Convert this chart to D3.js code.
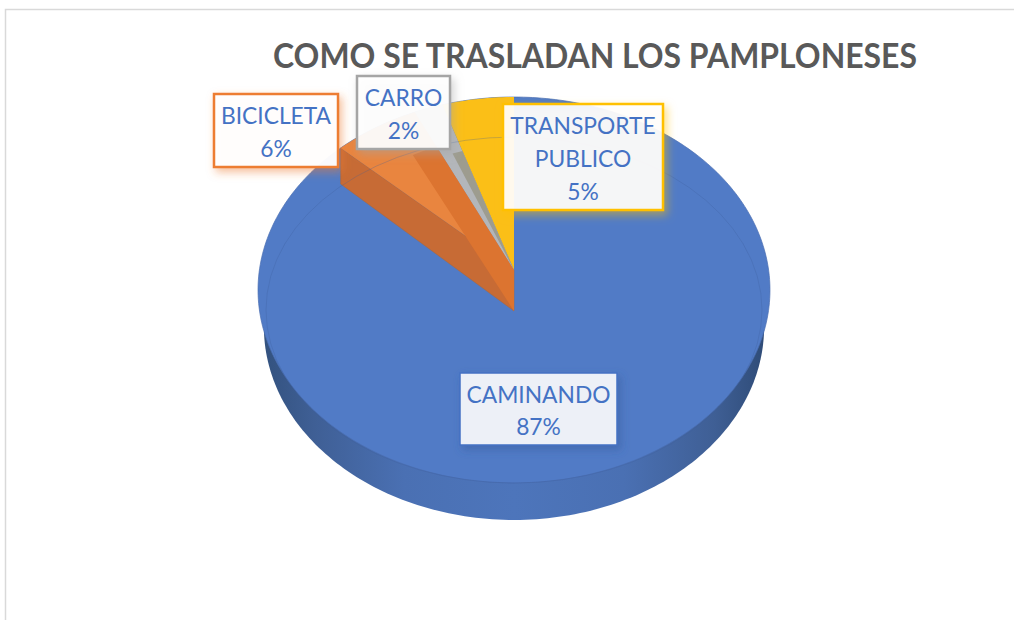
<!DOCTYPE html>
<html>
<head>
<meta charset="utf-8">
<script src="https://cdn.jsdelivr.net/npm/d3@7"></script>
<style>
  html, body { margin: 0; padding: 0; background: #fff; overflow: hidden; }
  svg { display: block; }
  text { font-family: Lato, "Open Sans", sans-serif; }
</style>
</head>
<body>
<svg id="chart" width="1014" height="620"></svg>
<script>
// ----------------------
// 1. Data
// ----------------------
const chartTitle = "COMO SE TRASLADAN LOS PAMPLONESES";
const categories = ["CAMINANDO", "BICICLETA", "CARRO", "TRANSPORTE PUBLICO"];
const values = [87, 6, 2, 5];
const labelLines = [["CAMINANDO"], ["BICICLETA"], ["CARRO"], ["TRANSPORTE", "PUBLICO"]];

// ----------------------
// 2. Layout + colours
// ----------------------
const svg = d3.select("#chart");
const width = 1014, height = 620;

const topColors = ["#517bc6", "#e9853f", "#b3b6ba", "#fbbf17"];
const borderColors = ["#4472c4", "#ed7d31", "#a5a5a5", "#ffc000"];
const boxes = [
  { x: 460, y: 373, w: 157, h: 72, fill: 0.88 },
  { x: 214, y: 94, w: 124, h: 73, fill: 0.95 },
  { x: 357, y: 76, w: 93, h: 73, fill: 0.92 },
  { x: 503, y: 104, w: 160, h: 106, fill: 0.9 }
];

// perspective disc: centre of the pie sits above the centre of the ellipse
const pieCx = 514, pieCy = 270, k = 0.1036, radX = 254.6, radY = 190.9, wallDepth = 37;

function project(angle, r = 1, scaleX = 1, dy = 0) {
  const u = Math.sin(angle) * r;
  const v = -Math.cos(angle) * r;
  const w = 1 - k * v;
  return [pieCx + radX * scaleX * u / w, pieCy + radY * v / w + dy];
}

const line = d3.line();
const defs = svg.append("defs");

function sectorPath(a0, a1) {
  const n = Math.max(2, Math.ceil((a1 - a0) * 60));
  const pts = d3.range(n + 1).map(i => project(a0 + (a1 - a0) * i / n));
  return line([project(0, 0), ...pts]) + "Z";
}

// side wall gradient
const wallGrad = defs.append("linearGradient").attr("id", "wall");
[[0, "#33527f"], [0.1, "#3f5f95"], [0.28, "#4a70b3"], [0.5, "#4d75bb"], [0.72, "#4a70b3"], [0.9, "#3f5f95"], [1, "#2f4c78"]]
  .forEach(s => wallGrad.append("stop").attr("offset", s[0]).attr("stop-color", s[1]));

// soft glow behind each label box
borderColors.forEach((c, i) => {
  defs.append("filter").attr("id", "glow" + i)
    .attr("x", "-20%").attr("y", "-20%").attr("width", "145%").attr("height", "145%")
    .append("feDropShadow")
    .attr("dx", 3).attr("dy", 4).attr("stdDeviation", 4)
    .attr("flood-color", i === 0 ? "#2f5597" : c).attr("flood-opacity", 0.5);
});

// ----------------------
// 3. Frame + title
// ----------------------
svg.append("path")
  .attr("d", `M5.5,${height}V9.5H${width}`)
  .attr("fill", "none")
  .attr("stroke", "#d9d9d9")
  .attr("stroke-width", 1.5);

svg.append("text")
  .attr("x", 595)
  .attr("y", 68)
  .attr("text-anchor", "middle")
  .attr("font-size", 35)
  .attr("font-weight", 700)
  .attr("fill", "#595959")
  .attr("textLength", 644)
  .attr("lengthAdjust", "spacingAndGlyphs")
  .text(chartTitle);

// ----------------------
// 4. Pie
// ----------------------
const arcs = d3.pie().sort(null).startAngle(0).endAngle(2 * Math.PI)(values);
const ringAngles = d3.range(0, 2 * Math.PI, 0.02);

// big slice starts at 12 o'clock and runs clockwise
svg.append("path")
  .attr("d", line(ringAngles.map(a => project(a, 1, 0.977, wallDepth))) + "Z")
  .attr("fill", "url(#wall)");

svg.append("path")
  .attr("d", line(ringAngles.map(a => project(a))) + "Z")
  .attr("fill", topColors[0])
  .attr("stroke", "#4a6fb2")
  .attr("stroke-width", 0.7);

// cut face where the big slice ends
const cut = arcs[0].endAngle;
svg.append("path")
  .attr("d", line([project(cut), project(0, 0), project(0, 0, 1, 41), project(cut, 1, 1, 36)]) + "Z")
  .attr("fill", "#c76b35")
  .attr("stroke", "#a9683f")
  .attr("stroke-width", 0.6);

// small slices
arcs.slice(1).forEach(d => {
  svg.append("path")
    .attr("d", sectorPath(d.startAngle, d.endAngle))
    .attr("fill", topColors[d.index]);
});

// darker share of the small slices, falling from the lower tip
const tip = project(0, 0, 1, 41);
const bike = arcs[1], car = arcs[2];
svg.append("path")
  .attr("d", line([project(0, 0), tip, project(bike.startAngle + (bike.endAngle - bike.startAngle) * 0.62, 0.77),
    project(bike.endAngle, 0.77), project(bike.endAngle)]) + "Z")
  .attr("fill", "#dc7430");
svg.append("path")
  .attr("d", line([project(0, 0), project(car.startAngle + (car.endAngle - car.startAngle) * 0.5, 0.7),
    project(car.endAngle, 0.7)]) + "Z")
  .attr("fill", "#9d9c8f");

// inner bevel ring
svg.append("ellipse")
  .attr("cx", pieCx).attr("cy", 310)
  .attr("rx", 248).attr("ry", 173)
  .attr("fill", "none")
  .attr("stroke", "#3e5f9c")
  .attr("stroke-opacity", 0.28)
  .attr("stroke-width", 1);

// ----------------------
// 5. Data labels
// ----------------------
categories.forEach((cat, i) => {
  const b = boxes[i];
  const g = svg.append("g").attr("class", "label");

  g.append("rect")
    .attr("x", b.x).attr("y", b.y)
    .attr("width", b.w).attr("height", b.h)
    .attr("fill", "#fff")
    .attr("fill-opacity", b.fill)
    .attr("stroke", borderColors[i])
    .attr("stroke-width", i === 0 ? 1.5 : 2.5)
    .attr("filter", `url(#glow${i})`);

  const lines = [...labelLines[i], values[i] + "%"];
  const step = (b.h - 40) / (lines.length - 1);
  lines.forEach((t, j) => {
    g.append("text")
      .attr("x", b.x + b.w / 2)
      .attr("y", b.y + 30 + j * step)
      .attr("text-anchor", "middle")
      .attr("font-size", 22.8)
      .attr("fill", "#4472c4")
      .text(t);
  });
});
</script>
</body>
</html>
